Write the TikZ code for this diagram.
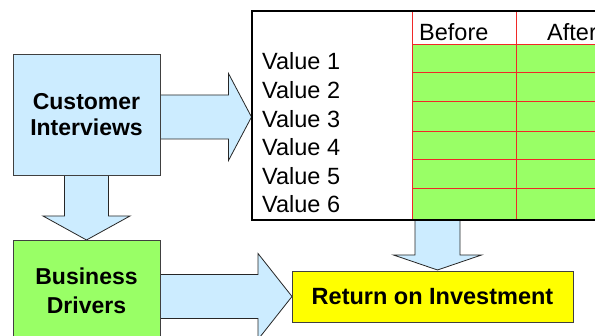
\documentclass[tikz,border=0pt]{standalone}
\usepackage{fontspec}
\setmainfont{Liberation Sans}
\usetikzlibrary{calc}

\definecolor{paleblue}{HTML}{CCECFF}
\definecolor{drivergreen}{HTML}{99FF66}
\definecolor{roiyellow}{HTML}{FFFF00}
\definecolor{gridred}{HTML}{F02828}

\pgfdeclarelayer{background}
\pgfsetlayers{background,main}

\tikzset{
  flowbox/.style={draw=black!75, line width=0.8pt, inner sep=0pt, outer sep=0pt,
    align=center, font=\bfseries\fontsize{23}{26}\selectfont},
  blockarrow/.style={draw=black!85, line width=0.8pt, fill=paleblue, line join=miter},
  gridline/.style={draw=gridred, line width=0.9pt},
  tablabel/.style={inner sep=0pt, font=\fontsize{23.5}{28}\selectfont},
}

% block arrow: start, tip, shaft half width, head half width, head length
\newcommand\blockarrow[5]{%
  \coordinate (ba-s) at (#1);
  \coordinate (ba-t) at (#2);
  \coordinate (ba-h) at ($(ba-t)!#5!(ba-s)$);
  \path[blockarrow]
    ($(ba-s)!#3!90:(ba-t)$) -- ($(ba-h)!#3!90:(ba-t)$) --
    ($(ba-h)!#4!90:(ba-t)$) -- (ba-t) --
    ($(ba-h)!#4!-90:(ba-t)$) -- ($(ba-h)!#3!-90:(ba-t)$) --
    ($(ba-s)!#3!-90:(ba-t)$) -- cycle;
}

\begin{document}
\begin{tikzpicture}[x=1pt, y=-1pt]
  \useasboundingbox (0,0) rectangle (595,336);
  \clip (0,0) rectangle (595,336);

  % boxes
  \node[flowbox, fill=paleblue, minimum width=147, minimum height=121]
    (ci) at (86.5,114.5) {Customer\\Interviews};
  \node[flowbox, fill=drivergreen, minimum width=147, minimum height=102,
    font=\bfseries\fontsize{23}{29}\selectfont]
    (bd) at (86.5,291) {Business\\Drivers};
  \node[flowbox, fill=roiyellow, minimum width=281, minimum height=51,
    font=\bfseries\fontsize{23.5}{28}\selectfont]
    (roi) at (432.5,296.5) {Return on Investment};

  % value table: cells
  \fill[drivergreen] (412,44) rectangle (610,220);
  \foreach \yy in {44,72,101,131,159,188}
    \draw[gridline] (412,\yy) -- (610,\yy);
  \foreach \xx in {412,516}
    \draw[gridline] (\xx,11) -- (\xx,220);

  % value table: frame
  \node[draw=black, line width=1.3pt, inner sep=0pt, outer sep=0pt,
    minimum width=388, minimum height=209] (tbl) at (446,115.5) {};

  % value table: labels
  \node[tablabel, anchor=base west] (hb) at (419,40.5) {Before};
  \node[tablabel, anchor=base west] (ha) at (547,40.5) {After};
  \foreach \i/\yy in {1/70,2/99,3/128,4/156,5/185,6/213}
    \node[tablabel, anchor=base west] (v\i) at (262,\yy) {Value \i};

  % connector end points
  \coordinate (t1) at (251.5,117);
  \coordinate (t4) at ($(roi.north)+(5,-1)$);

  % block arrows
  \begin{pgfonlayer}{background}
    \blockarrow{ci.east |- t1}{t1}{22pt}{43.5pt}{23pt}
    \blockarrow{ci.south}{bd.north}{22pt}{43.5pt}{24pt}
    \blockarrow{bd.east |- roi.west}{roi.west}{22pt}{43pt}{34pt}
    \blockarrow{t4 |- tbl.south}{t4}{22.5pt}{44pt}{15pt}
  \end{pgfonlayer}
\end{tikzpicture}
\end{document}
